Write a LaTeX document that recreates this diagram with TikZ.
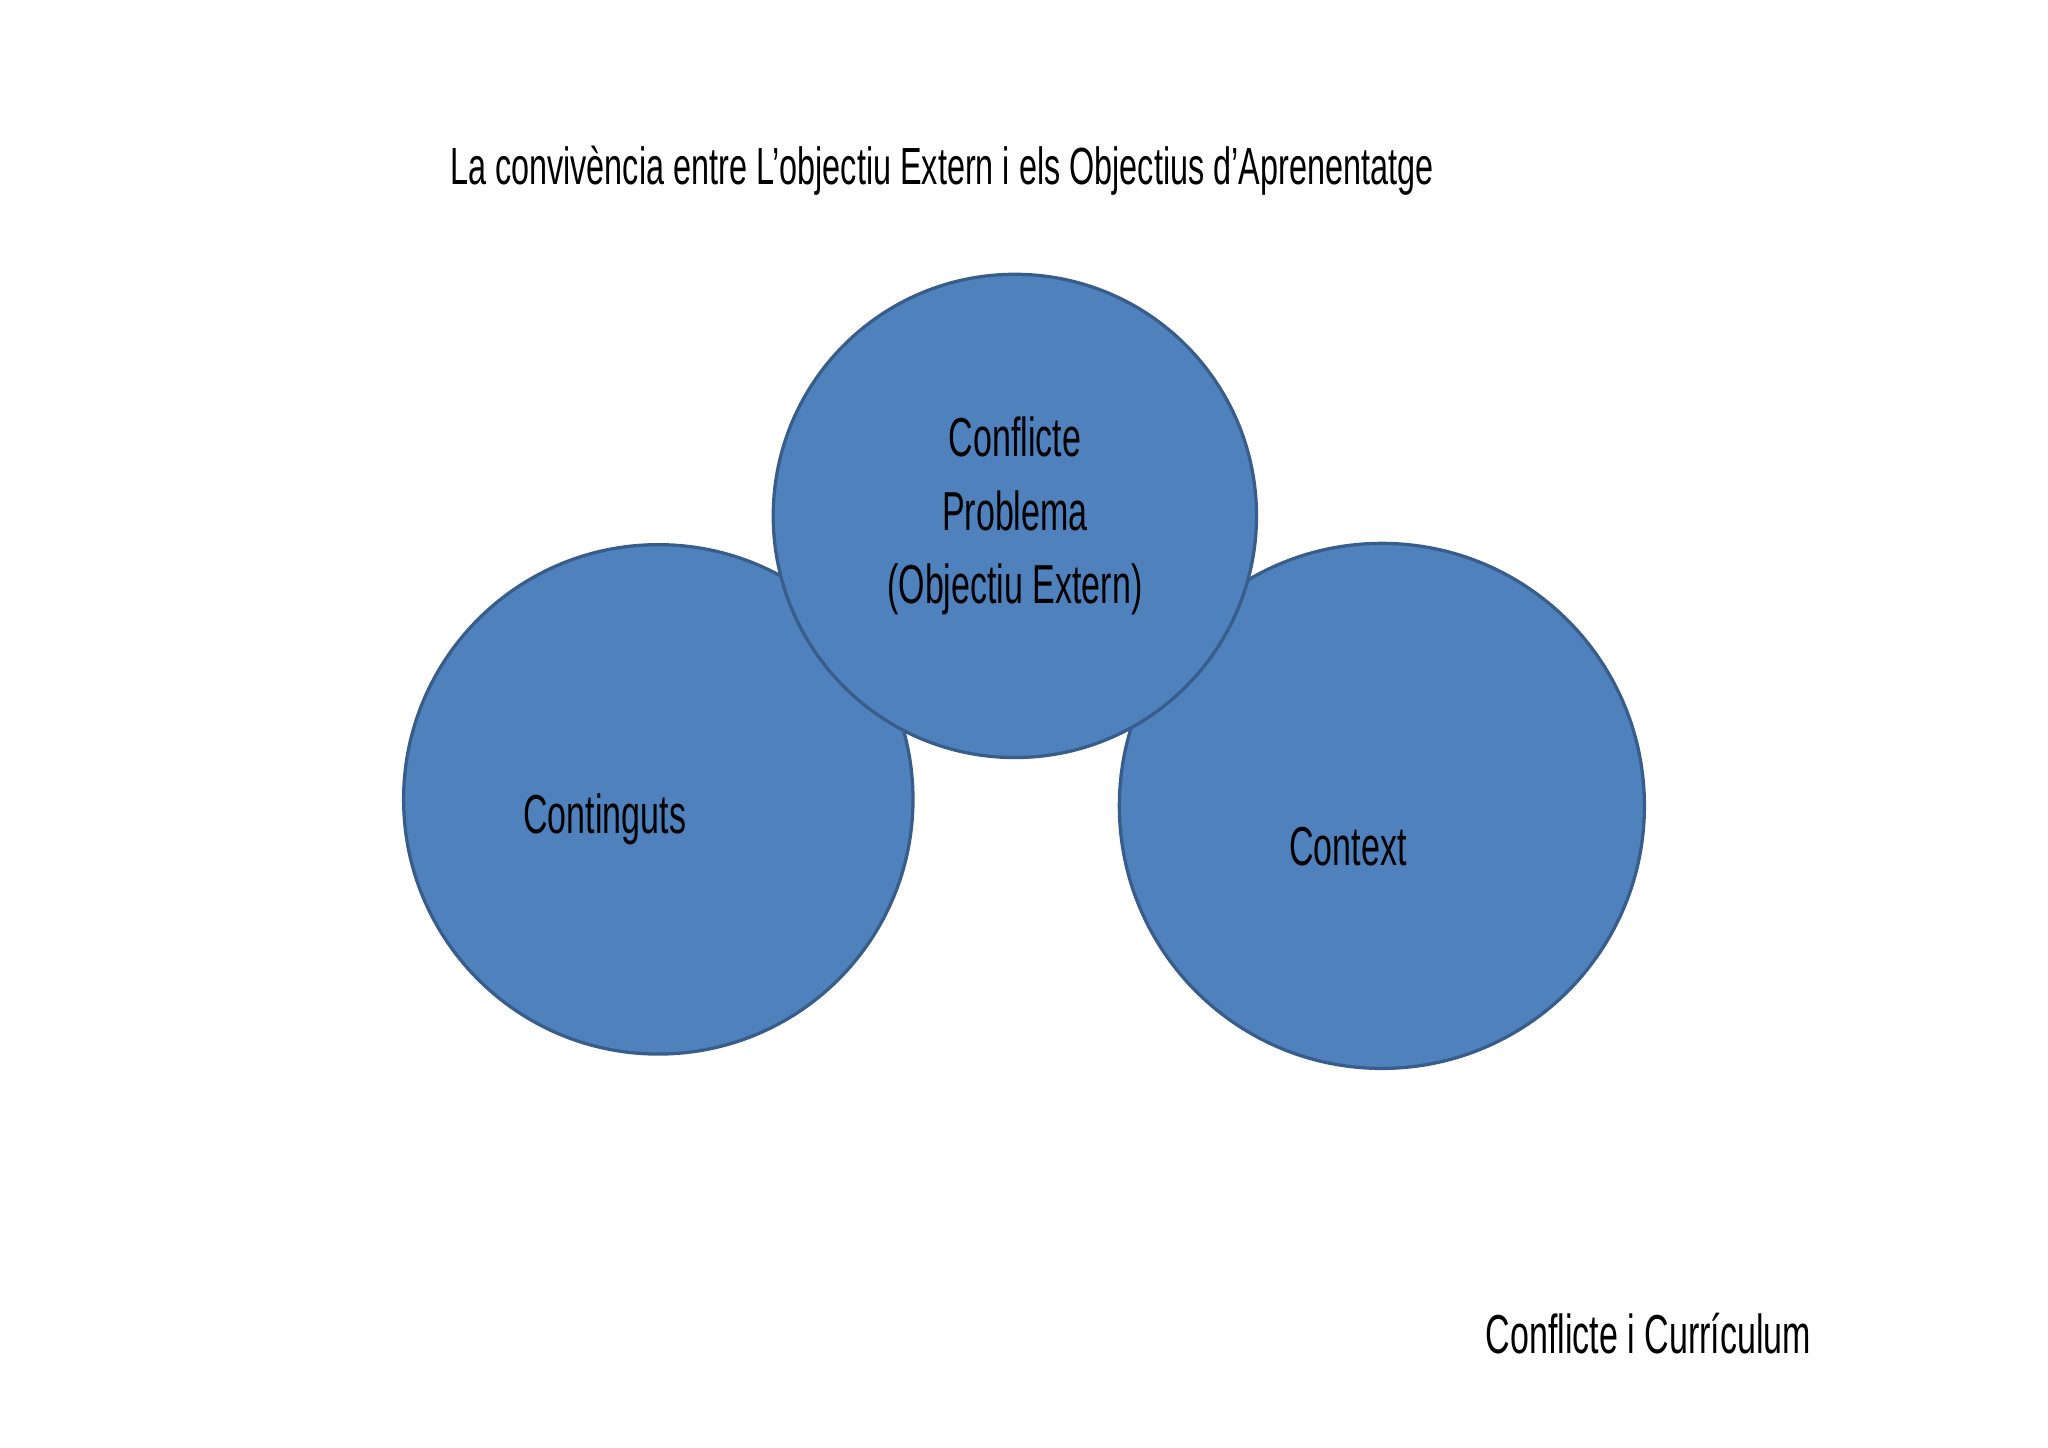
\documentclass[tikz,border=0pt]{standalone}
\usepackage{fontspec}
\setmainfont[FakeStretch=0.62]{Liberation Sans}
\begin{document}
\begin{tikzpicture}[x=1pt,y=-1pt,
  bub/.style={circle,fill=fillb,draw=edgeb,line width=2.5pt,inner sep=0pt},
  lab/.style={font=\fontsize{42}{56}\selectfont,align=center,text=black}]
\definecolor{fillb}{HTML}{4F81BD}
\definecolor{edgeb}{HTML}{385D8A}
\useasboundingbox (0,0) rectangle (1568,1108);
\node[bub,minimum size=390pt] (l) at (504,612) {};
\node[bub,minimum size=402pt] (r) at (1058,617) {};
\node[bub,minimum size=370pt] (t) at (777,395) {};
\node[lab] (tt) at (777,395) {Conflicte\\Problema\\(Objectiu Extern)};
\node[lab] (lt) at (463,627) {Continguts};
\node[lab] (rt) at (1032,648) {Context};
\node[lab,font=\fontsize{40}{48}\selectfont] (title) at (721,131) {La convivència entre L’objectiu Extern i els Objectius d’Aprenentatge};
\node[lab,font=\fontsize{42}{50}\selectfont] (foot) at (1262,1021) {Conflicte i Currículum};
\end{tikzpicture}
\end{document}
